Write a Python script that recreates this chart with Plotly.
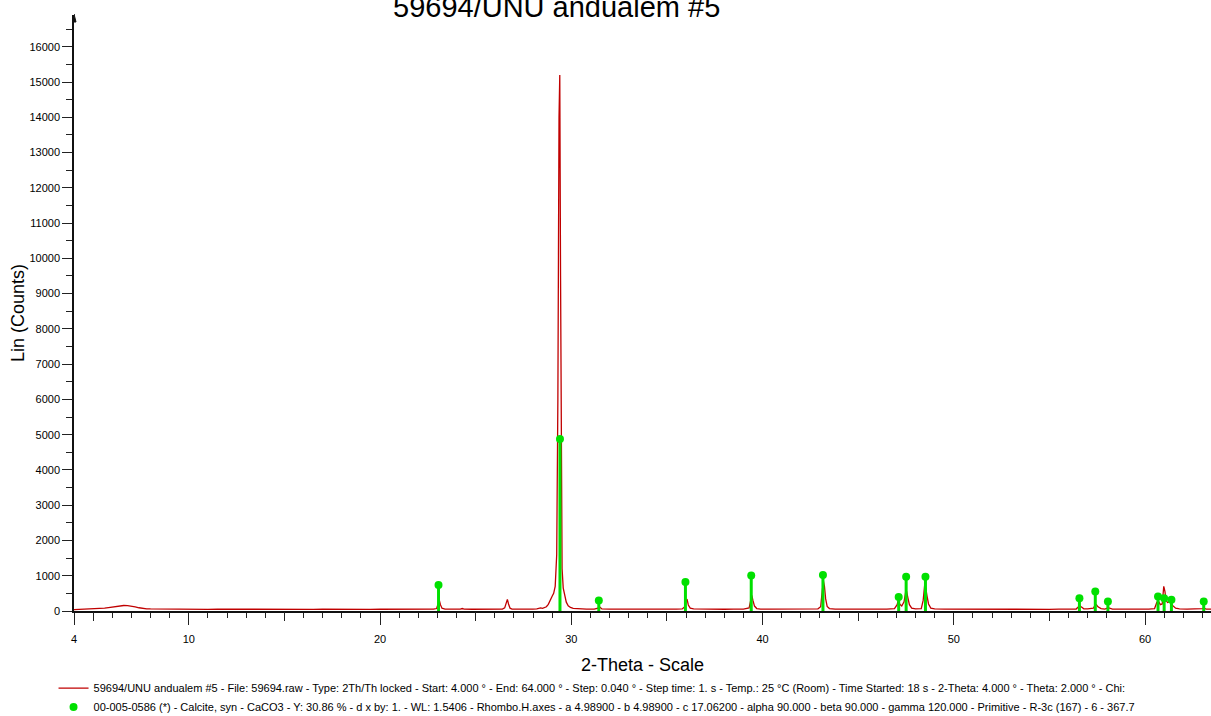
import plotly.graph_objects as go

# ---- measured pattern (2-Theta, counts) ----
two_theta = [
    4.0, 4.25, 4.5, 4.75, 5.0, 5.2, 5.4, 5.6, 5.8, 6.0, 6.2, 6.4, 6.6, 6.8, 7.0, 7.2, 7.4, 7.6, 7.8, 8.0,
    8.4, 8.8, 9.2, 9.6, 10.0, 10.5, 11.0, 11.5, 12.0, 12.5, 13.0, 13.5, 14.0, 14.5, 15.0, 15.5, 16.0,
    16.5, 17.0, 17.5, 18.0, 18.5, 19.0, 19.5, 20.0, 20.5, 21.0, 21.2, 21.6, 22.0, 22.4, 22.8,
    22.96, 23.04, 23.10, 23.16, 23.24, 23.4, 23.8, 24.2, 24.3, 24.4, 24.8, 25.2, 25.6, 26.0, 26.4,
    26.52, 26.60, 26.66, 26.72, 26.80, 26.9, 27.3, 27.7, 28.0, 28.2, 28.3, 28.4, 28.5, 28.6, 28.7,
    28.8, 28.9, 29.0, 29.08, 29.16, 29.24, 29.30, 29.36, 29.40, 29.44, 29.48, 29.52, 29.58, 29.66,
    29.74, 29.84, 29.96, 30.1, 30.4, 30.8, 31.2, 31.40, 31.46, 31.52, 31.6, 32.0, 32.5, 33.0, 33.5,
    34.0, 34.5, 35.0, 35.5, 35.8, 35.92, 36.00, 36.06, 36.12, 36.22, 36.4, 36.8, 37.2, 37.6, 38.0,
    38.5, 39.0, 39.30, 39.38, 39.44, 39.50, 39.58, 39.7, 39.9, 40.4, 41.0, 41.5, 42.0, 42.5, 42.9,
    43.04, 43.12, 43.18, 43.24, 43.30, 43.38, 43.5, 43.8, 44.3, 45.0, 45.5, 46.0, 46.5, 46.9,
    47.04, 47.10, 47.18, 47.28, 47.40, 47.48, 47.54, 47.60, 47.68, 47.8, 48.0, 48.3, 48.40, 48.48,
    48.54, 48.60, 48.68, 48.8, 49.0, 49.5, 50.0, 50.5, 51.0, 51.5, 52.0, 52.5, 53.0, 53.5, 54.0,
    54.5, 55.0, 55.5, 56.0, 56.4, 56.52, 56.60, 56.68, 56.8, 57.0, 57.3, 57.40, 57.46, 57.54, 57.7,
    57.9, 58.06, 58.14, 58.3, 58.8, 59.3, 59.8, 60.2, 60.5, 60.62, 60.70, 60.80, 60.90, 60.98,
    61.04, 61.10, 61.18, 61.28, 61.36, 61.44, 61.6, 61.8, 62.2, 62.6, 63.0, 63.08, 63.2, 63.45, 64.0,
]
counts = [
    40, 46, 42, 50, 52, 60, 72, 84, 98, 112, 128, 146, 156, 150, 140, 118, 92, 72, 62, 58,
    54, 58, 50, 54, 48, 52, 46, 50, 48, 52, 46, 50, 48, 52, 46, 50, 52,
    48, 50, 46, 48, 50, 46, 48, 50, 48, 56, 50, 48, 50, 48, 52,
    70, 190, 310, 180, 80, 54, 50, 56, 70, 56, 50, 48, 50, 52, 56,
    90, 250, 330, 200, 80, 56, 50, 52, 56, 60, 72, 90, 76, 90, 120,
    190, 330, 420, 500, 700, 1600, 6000, 14000, 15200, 9500, 3000, 1200, 650, 420,
    250, 150, 100, 72, 58, 54, 56, 80, 130, 90, 58, 52, 50, 52, 48,
    50, 52, 50, 52, 58, 110, 300, 320, 170, 80, 58, 52, 50, 52, 50,
    52, 56, 90, 300, 440, 300, 140, 70, 56, 52, 50, 52, 50, 52, 60,
    120, 600, 860, 690, 350, 130, 70, 56, 52, 50, 52, 50, 54, 70,
    180, 300, 190, 140, 260, 520, 540, 380, 180, 80, 60, 70, 300, 740,
    640, 430, 200, 80, 58, 52, 50, 52, 50, 48, 50, 52, 48, 50, 52,
    50, 48, 52, 50, 56, 120, 150, 110, 62, 58, 80, 170, 180, 120, 66,
    56, 90, 80, 56, 52, 50, 52, 56, 70, 250, 280, 180, 200, 700,
    560, 300, 240, 260, 250, 160, 80, 60, 54, 52, 70, 80, 56, 52, 50,
]

# ---- reference pattern: 00-005-0586 Calcite (stick positions / heights) ----
calcite_2theta = [23.06, 29.41, 31.44, 35.97, 39.41, 43.16, 47.12, 47.51, 48.52,
                  56.57, 57.40, 58.06, 60.68, 61.00, 61.38, 63.07]
calcite_counts = [740, 4880, 300, 820, 1010, 1020, 400, 970, 970,
                  365, 555, 270, 410, 365, 318, 270]

x_ticks = [4, 10, 20, 30, 40, 50, 60]
x_mid_ticks = [5, 15, 25, 35, 45, 55]

title_text = "59694/UNU andualem #5"
legend_scan = ("59694/UNU andualem #5 - File: 59694.raw - Type: 2Th/Th locked - Start: 4.000 ° - "
               "End: 64.000 ° - Step: 0.040 ° - Step time: 1. s - Temp.: 25 °C (Room) - "
               "Time Started: 18 s - 2-Theta: 4.000 ° - Theta: 2.000 ° - Chi:")
legend_ref = ("00-005-0586 (*) - Calcite, syn - CaCO3 - Y: 30.86 % - d x by: 1. - WL: 1.5406 - "
              "Rhombo.H.axes - a 4.98900 - b 4.98900 - c 17.06200 - alpha 90.000 - beta 90.000 - "
              "gamma 120.000 - Primitive - R-3c (167) - 6 - 367.7")

FONT = "Liberation Sans, Arial, sans-serif"
RED = "#C00000"
GREEN = "#00E000"

# stick segments built from the calcite arrays
stick_x, stick_y = [], []
for t, c in zip(calcite_2theta, calcite_counts):
    stick_x += [t, t, None]
    stick_y += [0, c, None]

fig = go.Figure()
fig.add_trace(go.Scatter(x=two_theta, y=counts, mode="lines", name=legend_scan,
                         line=dict(color=RED, width=1.3)))
fig.add_trace(go.Scatter(x=stick_x, y=stick_y, mode="lines", showlegend=False,
                         line=dict(color=GREEN, width=3), hoverinfo="skip"))
fig.add_trace(go.Scatter(x=calcite_2theta, y=calcite_counts, mode="markers", name=legend_ref,
                         marker=dict(color=GREEN, size=8)))
# invisible trace carrying the mid-length ticks axis
fig.add_trace(go.Scatter(x=[4, 64], y=[None, None], xaxis="x2", showlegend=False,
                         hoverinfo="skip", mode="lines"))

fig.update_layout(
    width=1211, height=716,
    margin=dict(l=74, r=0, t=15, b=105, autoexpand=False),
    paper_bgcolor="white", plot_bgcolor="white",
    font=dict(family=FONT, color="black", size=11),
    showlegend=True,
    legend=dict(x=-0.018, y=-0.105, xanchor="left", yanchor="top",
                font=dict(size=11, family=FONT, color="black"), itemwidth=30,
                bgcolor="rgba(0,0,0,0)", tracegroupgap=0, traceorder="normal"),
    xaxis=dict(range=[4, 63.45], showgrid=False, zeroline=False,
               showline=True, linecolor="#111", linewidth=1.5,
               tickmode="array", tickvals=x_ticks, ticks="outside", ticklen=12,
               tickcolor="#222", tickwidth=1, tickfont=dict(size=11, color="black"),
               ticklabelstandoff=5,
               minor=dict(dtick=1, tick0=4, ticks="outside", ticklen=5, tickcolor="#222", tickwidth=1),
               title=dict(text="2-Theta - Scale", font=dict(size=18, color="black"), standoff=14),
               automargin=False),
    xaxis2=dict(range=[4, 63.45], overlaying="x", side="bottom", anchor="y",
                showgrid=False, zeroline=False, showline=False,
                tickmode="array", tickvals=x_mid_ticks, ticks="outside", ticklen=9,
                tickcolor="#222", tickwidth=1, showticklabels=False, automargin=False),
    yaxis=dict(range=[0, 16900], showgrid=False, zeroline=False,
               showline=True, linecolor="#111", linewidth=1.5,
               dtick=1000, tick0=0, tickformat="d", ticks="outside", ticklen=10,
               tickcolor="#222", tickwidth=1, tickfont=dict(size=11, color="black"),
               minor=dict(dtick=500, ticks="outside", ticklen=6, tickcolor="#222", tickwidth=1),
               title=dict(text="Lin (Counts)", font=dict(size=18, color="black"), standoff=0),
               automargin=False),
    annotations=[dict(text=title_text, xref="paper", yref="paper", x=(556 - 74) / 1137, y=1,
                      xanchor="center", yanchor="bottom", yshift=-10, showarrow=False,
                      font=dict(size=29, family=FONT, color="black"))],
    shapes=[dict(type="path", xref="x", yref="paper", xsizemode="pixel", ysizemode="pixel",
                 xanchor=4, yanchor=1, path="M -2,-7 L 2,-7 L 0,1 Z",
                 fillcolor="#111", line=dict(color="#111", width=1))],
)

fig.write_html("out.html", config={"displayModeBar": False},
               post_script="document.body.style.margin='0px';document.body.style.overflow='hidden';")
